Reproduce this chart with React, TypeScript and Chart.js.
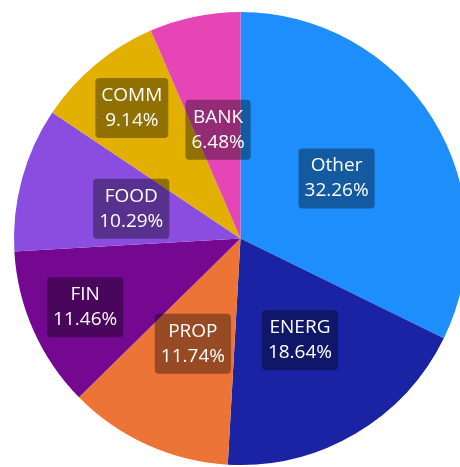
import React, { useEffect, useRef } from "react";
import { Chart, registerables } from "chart.js";

Chart.register(...registerables);

const categories = ["Other", "ENERG", "PROP", "FIN", "FOOD", "COMM", "BANK"];
const shares = [32.26, 18.64, 11.74, 11.46, 10.29, 9.14, 6.48];
const sliceColors = ["#1E8EFC", "#1A23A3", "#EC7437", "#750890", "#8A4DDF", "#E2B000", "#E645B6"];
const labelRadius = [0.5, 0.52, 0.51, 0.75, 0.5, 0.75, 0.49];

const FONT = '19px "Open Sans", "Noto Sans", sans-serif';

const boxLabels = {
  id: "boxLabels",
  afterDatasetsDraw(chart: any) {
    const ctx = chart.ctx;
    const meta = chart.getDatasetMeta(0);
    ctx.save();
    ctx.font = FONT;
    ctx.textAlign = "center";
    ctx.textBaseline = "middle";
    meta.data.forEach((arc: any, i: number) => {
      const { x, y, startAngle, endAngle, outerRadius } = arc.getProps(
        ["x", "y", "startAngle", "endAngle", "outerRadius"],
        true
      );
      const mid = (startAngle + endAngle) / 2;
      const r = outerRadius * labelRadius[i];
      const cx = x + Math.cos(mid) * r;
      const cy = y + Math.sin(mid) * r;
      const lines = [categories[i], shares[i].toFixed(2) + "%"];
      const w = Math.max(...lines.map((l) => ctx.measureText(l).width)) + 12;
      const lh = 25;
      const h = lh * 2 + 10;
      ctx.fillStyle = "rgba(0,0,0,0.36)";
      ctx.beginPath();
      (ctx as any).roundRect(cx - w / 2, cy - h / 2, w, h, 4);
      ctx.fill();
      ctx.fillStyle = "#ffffff";
      ctx.fillText(lines[0], cx, cy - lh / 2);
      ctx.fillText(lines[1], cx, cy + lh / 2);
    });
    ctx.restore();
  },
};

export default function App() {
  const ref = useRef<HTMLCanvasElement>(null);
  useEffect(() => {
    document.body.style.margin = "0";
    const chart = new Chart(ref.current!, {
      type: "pie",
      data: {
        labels: categories,
        datasets: [
          {
            data: shares,
            backgroundColor: sliceColors,
            borderWidth: 0,
          },
        ],
      },
      options: {
        animation: false,
        responsive: false,
        layout: { padding: { left: 14, top: 12, right: 13, bottom: 15 } },
        plugins: { legend: { display: false }, tooltip: { enabled: false } },
      },
      plugins: [boxLabels],
    });
    return () => chart.destroy();
  }, []);
  return (
    <div style={{ position: "fixed", left: 0, top: 0, width: 460, height: 467, overflow: "hidden", background: "#fff" }}>
      <canvas ref={ref} width={480} height={480} style={{ display: "block" }} />
    </div>
  );
}
